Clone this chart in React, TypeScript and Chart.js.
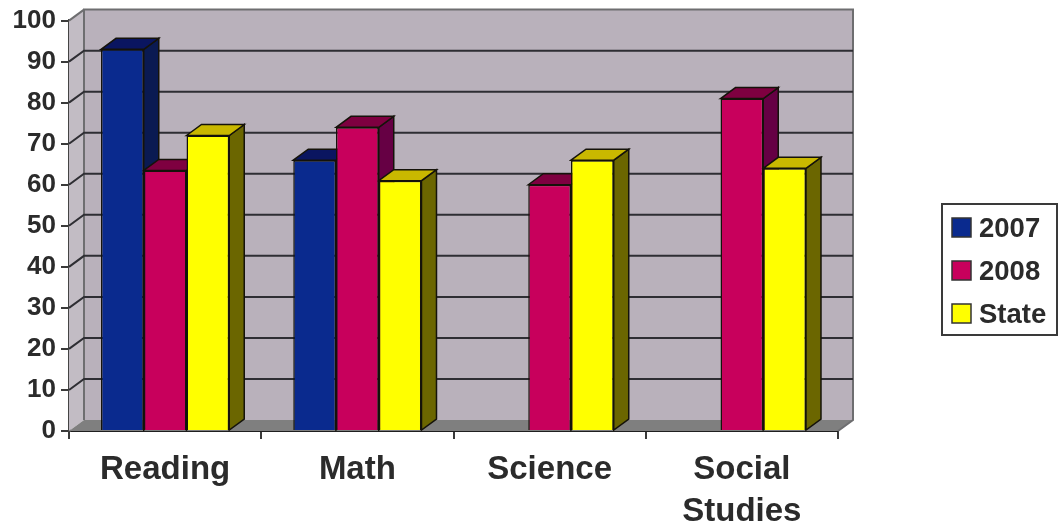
import React, { useEffect, useRef } from "react";
import { Chart, registerables } from "chart.js";

Chart.register(...registerables);

const categories: (string | string[])[] = ["Reading", "Math", "Science", ["Social", "Studies"]];
const values2007: (number | null)[] = [93, 66, null, null];
const values2008: (number | null)[] = [63.5, 74, 60, 81];
const valuesState: (number | null)[] = [72, 61, 66, 64];
const yTicks = [0, 10, 20, 30, 40, 50, 60, 70, 80, 90, 100];

const DX = 15;
const DY = -11;
const FONT = '"Liberation Sans", Arial, sans-serif';
const INK = "#2b2b2b";

const faces = [
  { front: "#0a2a8e", top: "#0a1560", side: "#0a1a52" },
  { front: "#c8005c", top: "#7e0040", side: "#660044" },
  { front: "#ffff00", top: "#c9b800", side: "#6b6600" },
];

function poly(ctx: CanvasRenderingContext2D, pts: number[][], fill: string, stroke?: string, lw = 1) {
  ctx.beginPath();
  pts.forEach((p, i) => (i ? ctx.lineTo(p[0], p[1]) : ctx.moveTo(p[0], p[1])));
  ctx.closePath();
  ctx.fillStyle = fill;
  ctx.fill();
  if (stroke) {
    ctx.strokeStyle = stroke;
    ctx.lineWidth = lw;
    ctx.stroke();
  }
}

const depthPlugin = {
  id: "depth",
  beforeDatasetsDraw(chart: any) {
    const { ctx, chartArea: a, scales } = chart;
    const y = scales.y;
    const l = a.left, r = a.right, t = a.top, b = a.bottom;
    ctx.save();
    poly(ctx, [[l, t], [l + DX, t + DY], [l + DX, b + DY], [l, b]], "#c2bcc4");
    poly(ctx, [[l + DX, t + DY], [r + DX, t + DY], [r + DX, b + DY], [l + DX, b + DY]], "#b9b1bb");
    poly(ctx, [[l, b], [l + DX, b + DY], [r + DX, b + DY], [r, b]], "#7f7f7f");
    ctx.strokeStyle = "#6e6e70";
    ctx.lineWidth = 2;
    ctx.beginPath();
    ctx.moveTo(l + DX, b + DY);
    ctx.lineTo(l + DX, t + DY);
    ctx.lineTo(r + DX, t + DY);
    ctx.lineTo(r + DX, b + DY);
    ctx.lineTo(r, b);
    ctx.stroke();
    ctx.strokeStyle = "#2e2e33";
    yTicks.forEach((v) => {
      if (v === 0 || v === 100) return;
      const py = y.getPixelForValue(v);
      ctx.beginPath();
      ctx.moveTo(l, py);
      ctx.lineTo(l + DX, py + DY);
      ctx.lineTo(r + DX, py + DY);
      ctx.stroke();
    });
    ctx.beginPath();
    ctx.moveTo(l, t);
    ctx.lineTo(l + DX, t + DY);
    ctx.strokeStyle = "#6e6e70";
    ctx.stroke();
    chart.data.labels.forEach((_: unknown, i: number) => {
      chart.data.datasets.forEach((_ds: unknown, d: number) => {
        const el = chart.getDatasetMeta(d).data[i];
        if (!el || chart.data.datasets[d].data[i] == null) return;
        const x0 = el.x - el.width / 2;
        const x1 = el.x + el.width / 2;
        const stroke = "#15130a";
        poly(ctx, [[x1, el.y], [x1 + DX, el.y + DY], [x1 + DX, el.base + DY], [x1, el.base]], faces[d].side, stroke, 1.5);
        poly(ctx, [[x0, el.y], [x0 + DX, el.y + DY], [x1 + DX, el.y + DY], [x1, el.y]], faces[d].top, stroke, 1.5);
      });
    });
    ctx.restore();
  },
};

const legendPlugin = {
  id: "boxLegend",
  afterDraw(chart: any) {
    const { ctx } = chart;
    ctx.save();
    ctx.strokeStyle = "#3a3a3a";
    ctx.lineWidth = 2;
    ctx.strokeRect(942, 204, 115, 131);
    ctx.font = `bold 27.5px ${FONT}`;
    ctx.textBaseline = "middle";
    chart.data.datasets.forEach((ds: any, i: number) => {
      const cy = 228 + i * 43;
      ctx.fillStyle = ds.backgroundColor;
      ctx.fillRect(952, cy - 10, 19, 19);
      ctx.strokeStyle = "#333";
      ctx.lineWidth = 1.5;
      ctx.strokeRect(952, cy - 10, 19, 19);
      ctx.fillStyle = INK;
      ctx.fillText(ds.label, 979, cy + 1);
    });
    ctx.restore();
  },
};

export default function App() {
  const ref = useRef<HTMLCanvasElement>(null);
  useEffect(() => {
    const mk = (label: string, data: (number | null)[], i: number) => ({
      label,
      data,
      backgroundColor: faces[i].front,
      borderColor: "#15130a",
      borderWidth: 1.5,
      categoryPercentage: 0.667,
      barPercentage: 1,
    });
    const chart = new Chart(ref.current as HTMLCanvasElement, {
      type: "bar",
      data: {
        labels: categories as any,
        datasets: [mk("2007", values2007, 0), mk("2008", values2008, 1), mk("State", valuesState, 2)],
      },
      plugins: [depthPlugin, legendPlugin],
      options: {
        responsive: false,
        animation: false,
        layout: { padding: { top: 20, right: 222, left: 0, bottom: 0 } },
        plugins: { legend: { display: false }, tooltip: { enabled: false }, title: { display: false } },
        scales: {
          x: {
            afterFit: (s: any) => { s.height = 98; },
            grid: { drawOnChartArea: false, drawTicks: true, tickLength: 8, color: "#3a3a3a", lineWidth: 2 },
            border: { color: "#1f1f1f", width: 2 },
            ticks: {
              color: INK,
              padding: 10,
              maxRotation: 0,
              autoSkip: false,
              font: { family: FONT, size: 33, weight: "bold", lineHeight: 1.27 },
            },
          },
          y: {
            min: 0,
            max: 100,
            afterFit: (s: any) => { s.width = 69; },
            afterBuildTicks: (s: any) => { s.ticks = yTicks.map((value) => ({ value })); },
            grid: { drawOnChartArea: false, drawTicks: true, tickLength: 8, color: "#3a3a3a", lineWidth: 2 },
            border: { color: "#444", width: 3 },
            ticks: { color: INK, padding: 5, font: { family: FONT, size: 26, weight: "bold" } },
          },
        },
      },
    } as any);
    return () => chart.destroy();
  }, []);
  return (
    <div style={{ position: "absolute", left: 0, top: 0, width: 1060, height: 529, background: "#fff" }}>
      <canvas ref={ref} width={1060} height={529} style={{ display: "block" }} />
    </div>
  );
}
